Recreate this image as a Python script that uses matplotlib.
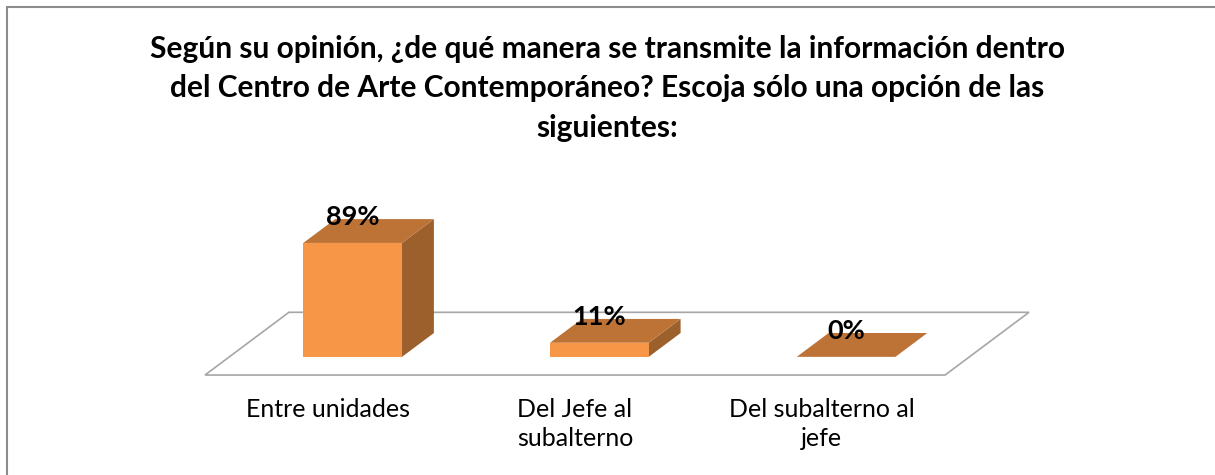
import matplotlib
matplotlib.use("Agg")
import matplotlib.pyplot as plt
from matplotlib.patches import Polygon, Rectangle

plt.rcParams['font.family'] = ['Lato', 'DejaVu Sans']

TITLE = ("Según su opinión, ¿de qué manera se transmite la información dentro\n"
         "del Centro de Arte Contemporáneo? Escoja sólo una opción de las\n"
         "siguientes:")
categories = ["Entre unidades", "Del Jefe al\nsubalterno", "Del subalterno al\njefe"]
values = [89, 11, 0]
labels = ["89%", "11%", "0%"]

FRONT = '#F79646'
TOP = '#BD7236'
SIDE = '#9C602D'
FLOOR_EDGE = '#A6A6A6'

# projection: x in category units, y in percent units, depth vector for floor
DEPTH_X = 0.34
DEPTH_Y = 49.0
BAR_W = 0.40
D0, D1 = 0.29, 0.67   # bar front / back depth (fraction of floor depth)

fig = plt.figure(figsize=(12.15, 4.75), dpi=100)
ax = fig.add_axes([0, 0, 1, 1])
ax.set_xlim(-0.831, 4.094)
ax.set_ylim(-78.1, 293.0)
ax.axis('off')

# outer chart frame (only left/top visible)
fig.patches.append(Rectangle((7 / 1215, -0.1), 1.2, 1 - 7 / 475 + 0.1,
                             transform=fig.transFigure, fill=False,
                             edgecolor='#8C8C8C', linewidth=1.5))

n = len(categories)
floor = [(0, 0), (n, 0), (n + DEPTH_X, DEPTH_Y), (DEPTH_X, DEPTH_Y)]
ax.add_patch(Polygon(floor, closed=True, facecolor='white',
                     edgecolor=FLOOR_EDGE, linewidth=1.2, zorder=1))


def proj(x, d, h):
    return (x + d * DEPTH_X, h + d * DEPTH_Y)


for i, (v, lab) in enumerate(zip(values, labels)):
    c = i + 0.5
    x0, x1 = c - BAR_W / 2, c + BAR_W / 2
    front = [proj(x0, D0, 0), proj(x1, D0, 0), proj(x1, D0, v), proj(x0, D0, v)]
    top = [proj(x0, D0, v), proj(x1, D0, v), proj(x1, D1, v), proj(x0, D1, v)]
    side = [proj(x1, D0, 0), proj(x1, D1, 0), proj(x1, D1, v), proj(x1, D0, v)]
    if v > 0:
        ax.add_patch(Polygon(side, closed=True, facecolor=SIDE, edgecolor='none', zorder=2))
        ax.add_patch(Polygon(front, closed=True, facecolor=FRONT, edgecolor='none', zorder=3))
    ax.add_patch(Polygon(top, closed=True, facecolor=TOP, edgecolor='none', zorder=3))
    lx, ly = proj(c, D0, v)
    ax.text(lx, v + D1 * DEPTH_Y + 1.5, lab, ha='center', va='center',
            fontsize=19.5, fontweight='bold', zorder=5)
    ax.text(c, -18, categories[i], ha='center', va='top', fontsize=18,
            linespacing=1.3)

fig.text(0.5, 1 - 35 / 475, TITLE, ha='center', va='top', fontsize=21.5,
         fontweight='bold', linespacing=1.5)

fig.savefig('out.png', dpi=100)
